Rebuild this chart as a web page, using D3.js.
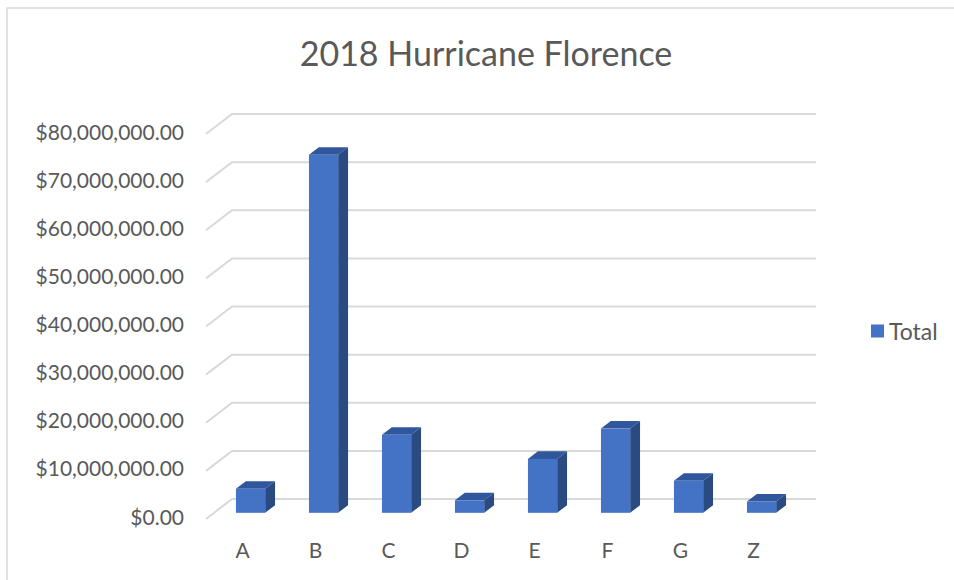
<!DOCTYPE html>
<html>
<head>
<meta charset="utf-8">
<script src="https://cdn.jsdelivr.net/npm/d3@7"></script>
<style>
  html, body { margin: 0; padding: 0; background: #ffffff; }
  svg { display: block; }
  text { font-family: Lato, "Open Sans", sans-serif; fill: #595959; }
</style>
</head>
<body>
<svg id="chart" width="954" height="580"></svg>
<script>
// Totals by category, 2018 Hurricane Florence
const categories = ["A", "B", "C", "D", "E", "F", "G", "Z"];
const totals = [5000000, 74400000, 16200000, 2600000, 11200000, 17500000, 6650000, 2350000];
const tickValues = [0, 10000000, 20000000, 30000000, 40000000, 50000000, 60000000, 70000000, 80000000];
const seriesName = "Total";
const chartTitle = "2018 Hurricane Florence";

const svg = d3.select("#chart");

// Chart area frame (extends past the right and bottom edges)
svg.append("rect")
  .attr("x", 7).attr("y", 8).attr("width", 1200).attr("height", 1200)
  .attr("fill", "#ffffff").attr("stroke", "#d9d9d9").attr("stroke-width", 1.5);

// Back wall scales
const x = d3.scaleBand().domain(categories).range([232, 816])
  .paddingInner(0.6).paddingOuter(0.3);
const y = d3.scaleLinear().domain([0, 80000000]).range([499, 114]);

// Oblique depth projection: z = 0 at the back wall, z = 1 at the floor's front edge
const depthX = -26, depthY = 20;
const proj = (px, py, z) => [px + depthX * z, py + depthY * z];
const zFront = 0.69, zBack = 0.31;

// Gridlines: diagonal on the side wall + horizontal on the back wall
const grid = svg.append("g");
tickValues.forEach(v => {
  const [fx, fy] = proj(x.range()[0], y(v), 1);
  grid.append("polyline")
    .attr("points", [[fx, fy], [x.range()[0], y(v)], [x.range()[1], y(v)]].map(p => p.join(",")).join(" "))
    .attr("fill", "none").attr("stroke", "#d9d9d9").attr("stroke-width", 2);
});

// Value axis labels
const fmt = d3.format("$,.2f");
svg.append("g").selectAll("text").data(tickValues).join("text")
  .attr("x", 184)
  .attr("y", d => proj(x.range()[0], y(d), 1)[1] - 3)
  .attr("text-anchor", "end")
  .attr("dominant-baseline", "central")
  .attr("font-size", 21)
  .text(d => fmt(d));

// 3D columns
const colFront = "#4472c4", colTop = "#30569c", colSide = "#2a4a82";
const bars = svg.append("g");
categories.forEach((c, i) => {
  const v = totals[i];
  const w = x.bandwidth();
  const [fx, fyTop] = proj(x(c), y(v), zFront);
  const fyBot = proj(x(c), y(0), zFront)[1];
  const [bx, byTop] = proj(x(c), y(v), zBack);
  const byBot = proj(x(c), y(0), zBack)[1];
  const ddx = bx - fx, ddy = byTop - fyTop;

  // top face
  bars.append("polygon")
    .attr("points", [[fx, fyTop], [fx + w, fyTop], [fx + w + ddx, fyTop + ddy], [fx + ddx, fyTop + ddy]]
      .map(p => p.join(",")).join(" "))
    .attr("fill", colTop);
  // right side face
  bars.append("polygon")
    .attr("points", [[fx + w, fyTop], [fx + w + ddx, fyTop + ddy], [fx + w + ddx, byBot], [fx + w, fyBot]]
      .map(p => p.join(",")).join(" "))
    .attr("fill", colSide);
  // front face
  bars.append("rect")
    .attr("x", fx).attr("y", fyTop).attr("width", w).attr("height", fyBot - fyTop)
    .attr("fill", colFront);
});

// Category labels along the floor's front edge
svg.append("g").selectAll("text").data(categories).join("text")
  .attr("x", d => proj(x(d) + x.bandwidth() / 2, y(0), 1)[0])
  .attr("y", 549)
  .attr("text-anchor", "middle")
  .attr("dominant-baseline", "central")
  .attr("font-size", 21)
  .text(d => d);

// Title
svg.append("text")
  .attr("x", 486).attr("y", 52)
  .attr("text-anchor", "middle")
  .attr("dominant-baseline", "central")
  .attr("font-size", 34)
  .text(chartTitle);

// Legend
const lg = svg.append("g").attr("transform", "translate(871,331)");
lg.append("rect").attr("x", 0).attr("y", -6.5).attr("width", 13).attr("height", 13).attr("fill", colFront);
lg.append("text").attr("x", 18).attr("y", 0)
  .attr("dominant-baseline", "central")
  .attr("font-size", 23)
  .text(seriesName);
</script>
</body>
</html>
